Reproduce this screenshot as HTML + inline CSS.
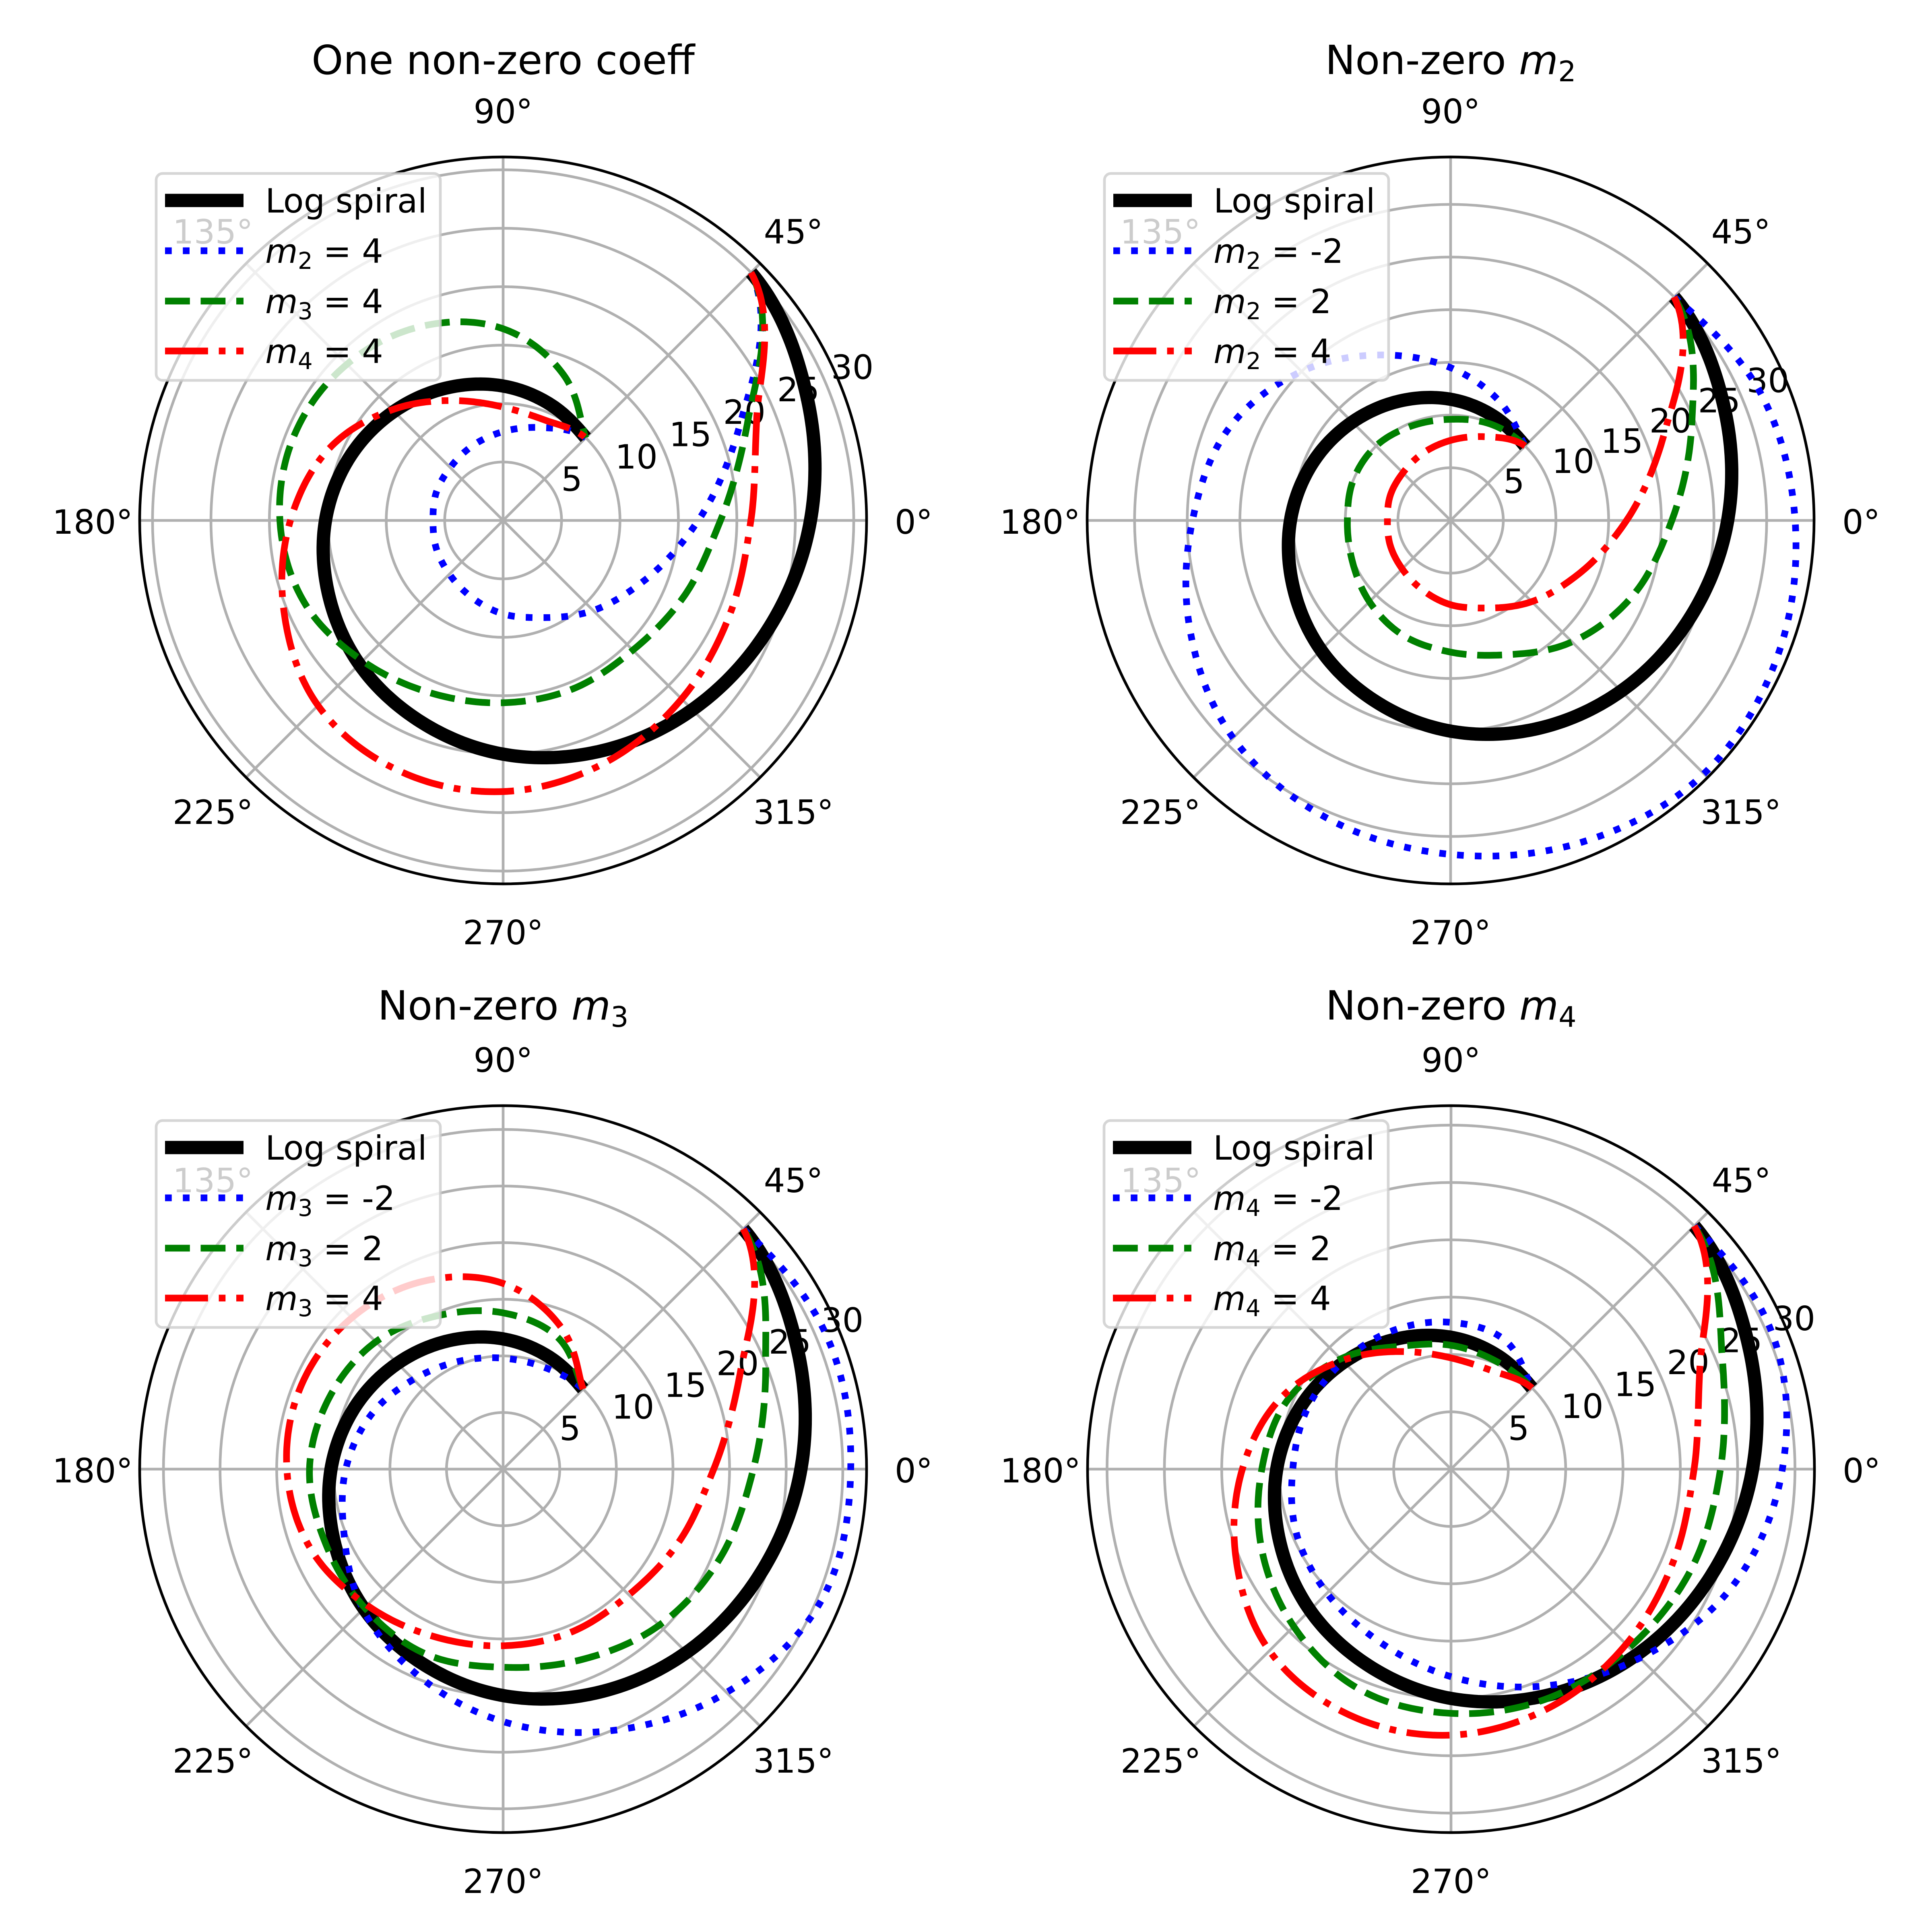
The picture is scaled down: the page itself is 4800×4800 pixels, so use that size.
<!DOCTYPE html>
<html><head><meta charset="utf-8">
<style>
html,body{margin:0;padding:0;background:#fff;}
svg{display:block;}
text{font-family:"DejaVu Sans","Liberation Sans",sans-serif;}
</style></head>
<body>
<svg id="fig" xmlns="http://www.w3.org/2000/svg" width="4800" height="4800" viewBox="0 0 4800 4800">
<rect x="0" y="0" width="4800" height="4800" fill="#fff"/>
</svg>
<script>
// ---- data (radius read at each angle, degrees) ----
const thetaDeg = [45,22.5,0,-22.5,-45,-67.5,-90,-112.5,-135,-157.5,-180,-202.5,-225,-247.5,-270,-292.5,-315];
const logSpiral = [30.0,28.1,26.3,24.5,22.9,21.4,20.0,18.6,17.4,16.2,15.2,14.2,13.2,12.3,11.5,10.7,10.0];
const m2Neg2 = [30,31.8,32.7,33.6,34.0,33.0,31.7,30.6,29.2,26.8,24.5,22.8,20.0,17.0,14.5,12.2,10.0];
const m2Pos2 = [30,24.8,21.0,18.7,16.3,13.8,12.5,11.8,10.9,10.1,9.8,10.0,10.0,9.7,9.6,9.9,10.0];
const m2Pos4 = [30,22.0,16.7,13.2,10.9,9.0,8.0,7.1,6.5,6.2,6.0,6.2,6.4,6.9,7.6,8.6,10.0];
const m3Neg2 = [30,30.9,30.7,30.4,27.9,25.0,22.3,19.7,17.5,15.2,13.9,12.6,11.2,10.3,9.8,9.7,10.0];
const m3Pos2 = [30,25.1,22.1,20.7,19.5,18.2,17.5,17.7,17.3,17.0,17.1,16.6,15.9,14.7,13.8,12.6,10.0];
const m3Pos4 = [30,22.7,18.6,16.8,15.7,15.6,15.6,16.0,17.0,18.4,19.1,19.3,18.9,18.0,16.4,13.5,10.0];
const m4Neg2 = [30,30.4,28.9,26.6,23.3,20.5,18.1,16.3,15.3,14.6,13.8,13.6,13.3,13.1,12.8,12.2,10.0];
const m4Pos2 = [30,25.6,23.5,22.7,22.0,21.7,21.3,20.8,19.4,17.9,16.5,15.5,13.6,11.6,10.8,10.2,10.0];
const m4Pos4 = [30,23.5,21.2,21.0,21.6,22.5,23.2,23.2,22.4,20.3,18.2,16.1,13.4,11.1,9.7,9.3,10.0];
const radialTicks = [5,10,15,20,25,30];
const angleTicks = [0,45,90,135,180,225,270,315];
const plotRmax = [31.1,34.5,32.1,31.7];

const NS = "http://www.w3.org/2000/svg";
const svg = document.getElementById('fig');
const R = 903;
const panels = [
  {cx:1250, cy:1293, title:'One non-zero coeff', sub:null, titleY:184, legTop:431, legLeft:388,
   series:[{d:m2Pos4, c:'blue', s:'dot', lab:['2','4']},{d:m3Pos4, c:'green', s:'dash', lab:['3','4']},{d:m4Pos4, c:'red', s:'dashdot', lab:['4','4']}]},
  {cx:3604, cy:1293, title:'Non-zero ', sub:'2', titleY:184, legTop:431, legLeft:2744,
   series:[{d:m2Neg2, c:'blue', s:'dot', lab:['2','-2']},{d:m2Pos2, c:'green', s:'dash', lab:['2','2']},{d:m2Pos4, c:'red', s:'dashdot', lab:['2','4']}]},
  {cx:1250, cy:3650, title:'Non-zero ', sub:'3', titleY:2533, legTop:2784, legLeft:388,
   series:[{d:m3Neg2, c:'blue', s:'dot', lab:['3','-2']},{d:m3Pos2, c:'green', s:'dash', lab:['3','2']},{d:m3Pos4, c:'red', s:'dashdot', lab:['3','4']}]},
  {cx:3605, cy:3650, title:'Non-zero ', sub:'4', titleY:2533, legTop:2784, legLeft:2743,
   series:[{d:m4Neg2, c:'blue', s:'dot', lab:['4','-2']},{d:m4Pos2, c:'green', s:'dash', lab:['4','2']},{d:m4Pos4, c:'red', s:'dashdot', lab:['4','4']}]}
];
const LW = 16.7;
const BLW = 33;
const dashes = {dot:`${LW} ${LW*1.65}`, dash:`${LW*3.7} ${LW*1.6}`, dashdot:`${LW*6.4} ${LW*1.6} ${LW} ${LW*1.6}`};

function mk(tag, attrs, parent){
  const e = document.createElementNS(NS, tag);
  for (const k in attrs) e.setAttribute(k, attrs[k]);
  (parent||svg).appendChild(e);
  return e;
}
function catmull(p0,p1,p2,p3,t){
  const t2=t*t, t3=t2*t;
  return 0.5*((2*p1)+(-p0+p2)*t+(2*p0-5*p1+4*p2-p3)*t2+(-p0+3*p1-3*p2+p3)*t3);
}
function seriesPath(p, rmax, vals){
  const k = R / rmax;
  const n = thetaDeg.length;
  let d = '';
  for (let i=0;i<n-1;i++){
    const r0 = vals[Math.max(0,i-1)], r1 = vals[i], r2 = vals[i+1], r3 = vals[Math.min(n-1,i+2)];
    const a1 = thetaDeg[i], a2 = thetaDeg[i+1];
    const steps = 24;
    for (let s=(i===0?0:1); s<=steps; s++){
      const t = s/steps;
      const r = catmull(r0,r1,r2,r3,t);
      const a = (a1 + (a2-a1)*t) * Math.PI/180;
      const x = p.cx + r*k*Math.cos(a), y = p.cy - r*k*Math.sin(a);
      d += (d===''?'M':'L') + x.toFixed(1) + ' ' + y.toFixed(1);
    }
  }
  return d;
}

panels.forEach((p, pi) => {
  const rmax = plotRmax[pi];
  const k = R / rmax;
  const g = mk('g', {});
  
  

  const tt = mk('text', {x:p.cx, y:p.titleY, 'font-size':100, 'text-anchor':'middle', fill:'#000'}, g);
  
  
  tt.appendChild(document.createTextNode(p.title));
  if (p.sub){
    const m = mk('tspan', {'font-style':'italic'}, tt); m.textContent = 'm';
    const s = mk('tspan', {'font-size':70, dy:18}, tt); s.textContent = p.sub;
  }

  radialTicks.forEach(v => {
    const c = mk('circle', {cx:p.cx, cy:p.cy, r:(v*k).toFixed(1), fill:'none', stroke:'#b0b0b0', 'stroke-width':6.7}, g);
    
    
  });
  angleTicks.forEach(a => {
    const rad = a*Math.PI/180;
    const l = mk('line', {x1:p.cx, y1:p.cy, x2:(p.cx+R*Math.cos(rad)).toFixed(1), y2:(p.cy-R*Math.sin(rad)).toFixed(1), stroke:'#b0b0b0', 'stroke-width':6.7}, g);
    
    
  });
  const sp = mk('circle', {cx:p.cx, cy:p.cy, r:R, fill:'none', stroke:'#000', 'stroke-width':6.7}, g);
  
  

  angleTicks.forEach(a => {
    const rad = a*Math.PI/180;
    const t = mk('text', {x:(p.cx+1020*Math.cos(rad)).toFixed(1), y:(p.cy-1020*Math.sin(rad)+33).toFixed(1), 'font-size':83, 'text-anchor':'middle', fill:'#000'}, g);
    
    
    t.textContent = a + '°';
  });
  const ra = 22.5*Math.PI/180;
  radialTicks.forEach(v => {
    const t = mk('text', {x:(p.cx+v*k*Math.cos(ra)+10).toFixed(1), y:(p.cy-v*k*Math.sin(ra)-18).toFixed(1), 'font-size':83, fill:'#000'}, g);
    
    
    t.textContent = String(v);
  });

  const bl = mk('path', {d:seriesPath(p, rmax, logSpiral), fill:'none', stroke:'#000', 'stroke-width':BLW, 'stroke-linejoin':'round'}, g);
  
  
  p.series.forEach(s => {
    const pa = mk('path', {d:seriesPath(p, rmax, s.d), fill:'none', stroke:s.c, 'stroke-width':LW, 'stroke-dasharray':dashes[s.s], 'stroke-linejoin':'round'}, g);
    
    
  });

  const lg = mk('g', {}, g);
  
  
  const box = mk('rect', {x:p.legLeft, y:p.legTop, width:706, height:514, rx:16, fill:'#fff', 'fill-opacity':0.8, stroke:'#cccccc', 'stroke-width':6.7, 'stroke-opacity':0.8}, lg);
  
  
  const rows = [67,192,317,441];
  const x1 = p.legLeft+22, x2 = p.legLeft+217, tx = p.legLeft+271;
  const h0 = mk('line', {x1:x1, y1:p.legTop+rows[0], x2:x2, y2:p.legTop+rows[0], stroke:'#000', 'stroke-width':BLW}, lg);
  
  
  const t0 = mk('text', {x:tx, y:p.legTop+rows[0]+30, 'font-size':83, fill:'#000'}, lg);
  
  
  t0.textContent = 'Log spiral';
  p.series.forEach((s, i) => {
    const y = p.legTop + rows[i+1];
    const h = mk('line', {x1:x1, y1:y, x2:x2, y2:y, stroke:s.c, 'stroke-width':LW, 'stroke-dasharray':dashes[s.s]}, lg);
    
    
    const t = mk('text', {x:tx, y:y+30, 'font-size':83, fill:'#000'}, lg);
    
    
    const m = mk('tspan', {'font-style':'italic'}, t); m.textContent = 'm';
    const sb = mk('tspan', {'font-size':58, dy:15}, t); sb.textContent = s.lab[0];
    const rest = mk('tspan', {dy:-15}, t); rest.textContent = ' = ' + s.lab[1];
  });
});
</script>
</body></html>
